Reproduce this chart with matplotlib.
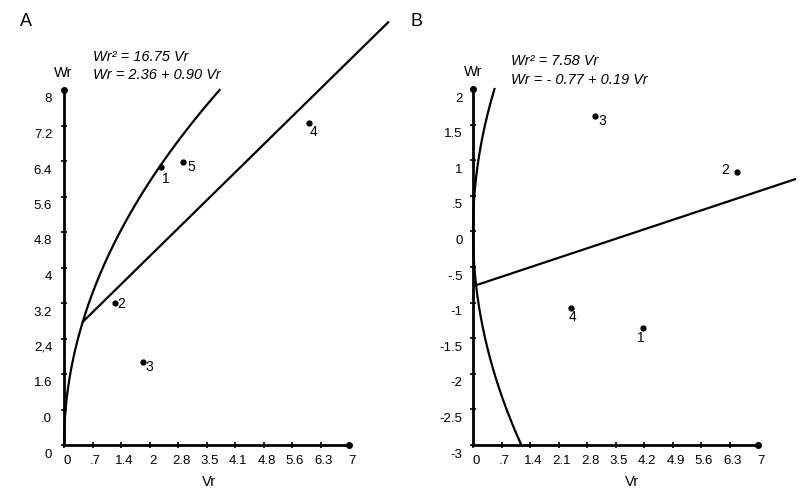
import numpy as np
import matplotlib
matplotlib.use("Agg")
import matplotlib.pyplot as plt
from matplotlib.transforms import ScaledTranslation

plt.rcParams['font.family'] = ['Liberation Sans', 'DejaVu Sans']

W, H = 805, 499

# Panel A data
vr_a = [2.38, 1.25, 1.94, 6.02, 2.92]
wr_a = [6.26, 3.20, 1.87, 7.25, 6.37]
lab_a = ['1', '2', '3', '4', '5']
off_a = [(5, -12), (6, -1), (6, -5), (4, -9), (8, -5)]
xt_a = [0, 0.7, 1.4, 2.1, 2.8, 3.5, 4.2, 4.9, 5.6, 6.3, 7.0]
xtl_a = ['0', '.7', '1.4', '2', '2.8', '3.5', '4.1', '4.8', '5.6', '6.3', '7']
yt_a = [0, 0.8, 1.6, 2.4, 3.2, 4.0, 4.8, 5.6, 6.4, 7.2, 8.0]
ytl_a = ['0', '.0', '1.6', '2,4', '3.2', '4', '4.8', '5.6', '6.4', '7.2', '8']
k_a = 16.75          # Wr^2 = k Vr
b0_a, b1_a = 2.36, 0.90   # Wr = b0 + b1 Vr
line_a_range = (0.47, 7.96)

# Panel B data
vr_b = [4.18, 6.49, 3.00, 2.41]
wr_b = [-1.35, 0.83, 1.62, -1.08]
lab_b = ['1', '2', '3', '4']
off_b = [(-2, -10), (-12, 2), (7, -5), (1, -9)]
xt_b = [0, 0.7, 1.4, 2.1, 2.8, 3.5, 4.2, 4.9, 5.6, 6.3, 7.0]
xtl_b = ['0', '.7', '1.4', '2.1', '2.8', '3.5', '4.2', '4.9', '5.6', '6.3', '7']
yt_b = [-3, -2.5, -2, -1.5, -1, -0.5, 0, 0.5, 1, 1.5, 2]
ytl_b = ['-3', '-2.5', '-2', '-1.5', '-1', '-.5', '0', '.5', '1', '1.5', '2']
k_b = 7.58
b0_b, b1_b = -0.77, 0.19
line_b_range = (0.08, 7.91)

fig = plt.figure(figsize=(W / 100, H / 100), dpi=100)


def make_axes(x0, x1, y0, y1):
    return fig.add_axes([x0 / W, 1 - y1 / H, (x1 - x0) / W, (y1 - y0) / H])


def style_axes(ax, xlim, ylim, xt, xtl, yt, ytl, ylab_dx):
    ax.set_xlim(*xlim)
    ax.set_ylim(*ylim)
    for s in ['top', 'right']:
        ax.spines[s].set_visible(False)
    for s in ['left', 'bottom']:
        ax.spines[s].set_linewidth(2)
    ax.set_xticks(xt)
    ax.set_xticklabels(xtl)
    ax.set_yticks(yt)
    ax.set_yticklabels(ytl)
    ax.tick_params(direction='inout', length=5, width=1.2, labelsize=9.5)
    ax.tick_params(axis='x', pad=5)
    ax.tick_params(axis='y', pad=ylab_dx)
    for t in ax.get_yticklabels():
        t.set_transform(t.get_transform() + ScaledTranslation(0, -8 / 100, fig.dpi_scale_trans))
    for t in ax.get_xticklabels():
        t.set_transform(t.get_transform() + ScaledTranslation(3 / 100, 0, fig.dpi_scale_trans))
    # dots at the axis ends
    ax.plot([xlim[0]], [ylim[1]], 'o', color='black', ms=4, clip_on=False)
    ax.plot([xlim[1]], [ylim[0]], 'o', color='black', ms=4, clip_on=False)


# ---------- A ----------
axA = make_axes(64, 349, 90, 445)
style_axes(axA, (0, 7), (0, 8), xt_a, xtl_a, yt_a, ytl_a, 6)
wr = np.linspace(0, 8, 300)
axA.plot(wr ** 2 / k_a, wr, color='black', lw=1.6, clip_on=False)
vr = np.linspace(*line_a_range, 50)
axA.plot(vr, b0_a + b1_a * vr, color='black', lw=1.6, clip_on=False)
axA.plot(vr_a, wr_a, 'o', color='black', ms=3.5, clip_on=False)
for x, y, s, o in zip(vr_a, wr_a, lab_a, off_a):
    axA.annotate(s, (x, y), xytext=o, textcoords='offset pixels',
                 ha='center', va='center', fontsize=10)

# ---------- B ----------
axB = make_axes(473, 758, 89, 445)
style_axes(axB, (0, 7), (-3, 2), xt_b, xtl_b, yt_b, ytl_b, 5)
wr = np.linspace(-3, 2, 300)
axB.plot(wr ** 2 / k_b, wr, color='black', lw=1.6, clip_on=False)
vr = np.linspace(*line_b_range, 50)
axB.plot(vr, b0_b + b1_b * vr, color='black', lw=1.6, clip_on=False)
axB.plot(vr_b, wr_b, 'o', color='black', ms=3.5, clip_on=False)
for x, y, s, o in zip(vr_b, wr_b, lab_b, off_b):
    axB.annotate(s, (x, y), xytext=o, textcoords='offset pixels',
                 ha='center', va='center', fontsize=10)


def ftext(x, y, s, **kw):
    fig.text(x / W, 1 - y / H, s, **kw)


ftext(20, 22, 'A', fontsize=13, va='center')
ftext(410, 22, 'B', fontsize=13, va='center')
ftext(63, 73, 'Wr', fontsize=10.5, ha='center', va='center')
ftext(473, 72, 'Wr', fontsize=10.5, ha='center', va='center')
ftext(209, 482, 'Vr', fontsize=10.5, ha='center', va='center')
ftext(632, 482, 'Vr', fontsize=10.5, ha='center', va='center')
ftext(93, 57, 'Wr² = 16.75 Vr', fontsize=10.5, style='italic', va='center')
ftext(93, 75, 'Wr = 2.36 + 0.90 Vr', fontsize=10.5, style='italic', va='center')
ftext(511, 61, 'Wr² = 7.58 Vr', fontsize=10.5, style='italic', va='center')
ftext(511, 80, 'Wr = - 0.77 + 0.19 Vr', fontsize=10.5, style='italic', va='center')

fig.savefig('out.png', dpi=100)
